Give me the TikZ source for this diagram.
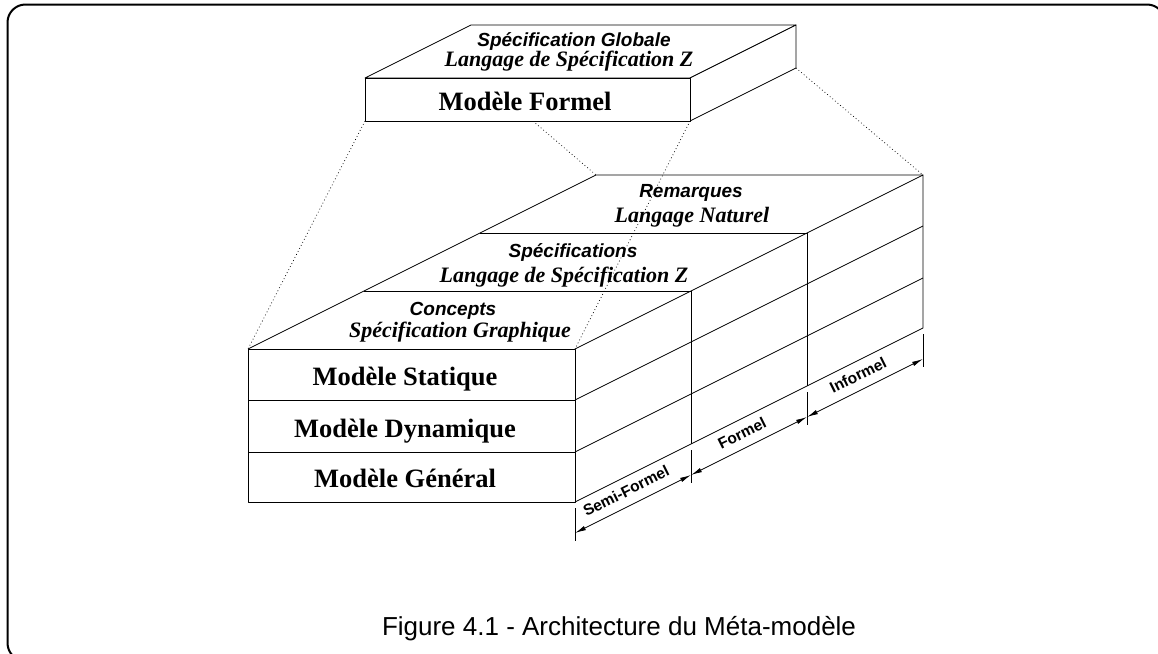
\documentclass[tikz,border=0pt]{standalone}
\usepackage{fontspec}
\setmainfont{Liberation Serif}
\setsansfont{Liberation Sans}
\usetikzlibrary{arrows.meta}
\tikzset{
  edge/.style={line width=0.8pt, line join=round},
  face/.style={edge, fill=white},
  proj/.style={line width=0.7pt, dash pattern=on 0.8pt off 2.6pt},
  frame/.style={line width=2pt, rounded corners=18pt},
  dimline/.style={line width=0.8pt, {Latex[length=11pt,width=4.5pt]}-{Latex[length=11pt,width=4.5pt]}},
  extline/.style={line width=0.8pt},
  helvbo/.style={font=\fontsize{19}{19}\selectfont\sffamily\bfseries\itshape, inner sep=0pt, anchor=base},
  timesbi/.style={font=\fontsize{22}{22}\selectfont\rmfamily\bfseries\itshape, inner sep=0pt, anchor=base},
  timesb/.style={font=\fontsize{26.5}{26.5}\selectfont\rmfamily\bfseries, inner sep=0pt, anchor=base},
  dimlabel/.style={font=\fontsize{15.5}{15.5}\selectfont\sffamily\bfseries, inner sep=0pt, rotate=26.57},
  captext/.style={font=\fontsize{26}{26}\selectfont\sffamily, inner sep=0pt, anchor=base}
}
\begin{document}
\begin{tikzpicture}[x=1pt,y=-1pt]
\useasboundingbox (0,0) rectangle (1158,653);
% frame
\draw[frame] (7.5,4.5) rectangle (1165,661);

% ---------- lower block coordinates ----------
\coordinate (L1) at (248,349);
\coordinate (L2) at (575,349);
\coordinate (L3) at (575,502);
\coordinate (L4) at (248,502);
\coordinate (R1) at (248,400);
\coordinate (R2) at (248,452);
\coordinate (S1) at (575,400);
\coordinate (S2) at (575,452);
% depth step (116,-58)
\coordinate (C1) at (364,291);
\coordinate (C2) at (691,291);
\coordinate (P1) at (480,233);
\coordinate (P2) at (807,233);
\coordinate (B1) at (596,175);
\coordinate (B2) at (923,175);
\coordinate (E1) at (923,226);
\coordinate (E2) at (923,278);
\coordinate (E3) at (923,328);
\coordinate (V1) at (691,444);
\coordinate (V2) at (807,386);

% front face
\draw[edge] (L1) rectangle (L3);
\draw[edge] (R1) -- (S1);
\draw[edge] (R2) -- (S2);
% top face
\draw[edge] (L1) -- (B1) -- (B2);
\draw[edge] (C1) -- (C2);
\draw[edge] (P1) -- (P2);
% right side
\draw[edge] (L2) -- (B2) -- (E3) -- (L3);
\draw[edge] (S1) -- (E1);
\draw[edge] (S2) -- (E2);
\draw[edge] (C2) -- (V1);
\draw[edge] (P2) -- (V2);

% dimension lines
\coordinate (D0) at (575,533);
\coordinate (D1) at (691,475);
\coordinate (D2) at (807,417);
\coordinate (D3) at (923,359);
\draw[extline] (575,508) -- (575,541);
\draw[extline] (691,450) -- (691,483);
\draw[extline] (807,392) -- (807,425);
\draw[extline] (923,334) -- (923,367);
\draw[dimline] (D0) -- (D1);
\draw[dimline] (D1) -- (D2);
\draw[dimline] (D2) -- (D3);
\node[dimlabel] (lsemi) at (626,491) {Semi-Formel};
\node[dimlabel] (lform) at (742,433) {Formel};
\node[dimlabel] (linf) at (858,375) {Informel};

% ---------- top box ----------
\coordinate (T1) at (365,78);
\coordinate (T2) at (690,78);
\coordinate (T3) at (690,121);
\coordinate (T4) at (365,121);
\coordinate (U1) at (471,25);
\coordinate (U2) at (796,25);
\coordinate (U3) at (796,68);
\coordinate (U4) at (471,68);

% projection lines
\draw[proj] (T4) -- (L1);
\draw[proj] (U4) -- (B1);
\draw[proj] (T3) -- (L2);
\draw[proj] (U3) -- (B2);

\draw[face] (T1) -- (U1) -- (U2) -- (T2) -- cycle;
\draw[face] (T2) -- (U2) -- (U3) -- (T3) -- cycle;
\draw[face] (T1) rectangle (T3);

% ---------- texts ----------
\node[helvbo] (glob) at (574,46) {Spécification Globale};
\node[timesbi] (globz) at (569,66) {Langage de Spécification Z};
\node[timesb] (formel) at (525,110) {Modèle Formel};

\node[helvbo] (rem) at (691,197) {Remarques};
\node[timesbi] (remn) at (692,222) {Langage Naturel};
\node[helvbo] (spec) at (573,257) {Spécifications};
\node[timesbi] (specz) at (564,282) {Langage de Spécification Z};
\node[helvbo] (conc) at (453,315) {Concepts};
\node[timesbi] (concg) at (460,337) {Spécification Graphique};

\node[timesb] (stat) at (405,385) {Modèle Statique};
\node[timesb] (dyn) at (405,437) {Modèle Dynamique};
\node[timesb] (gen) at (405,487) {Modèle Général};

\node[captext] (cap) at (619,635) {Figure 4.1 - Architecture du Méta-modèle};
\end{tikzpicture}
\end{document}
